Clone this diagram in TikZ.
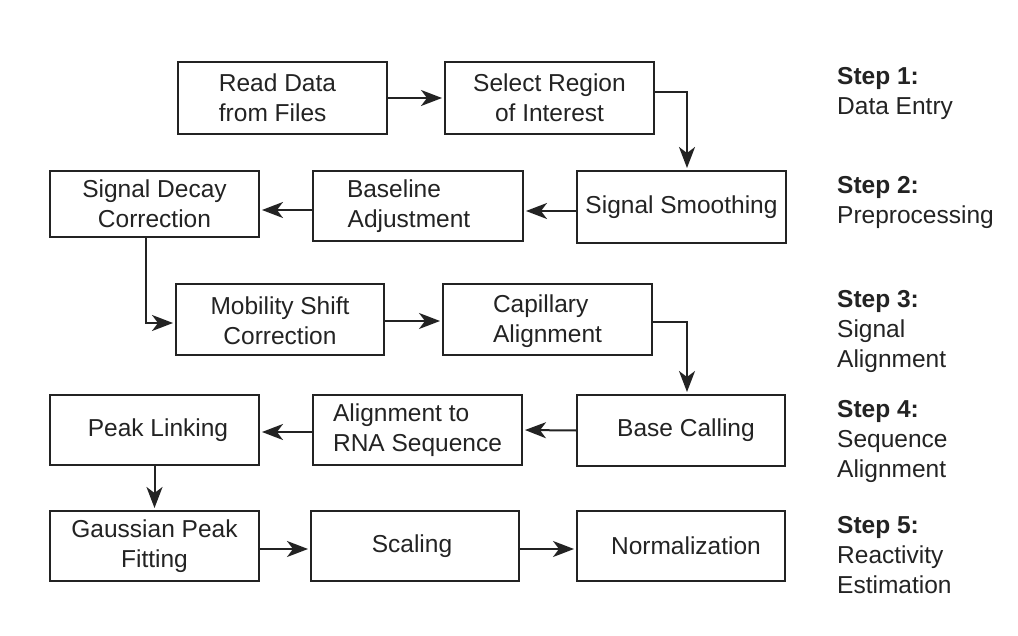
\documentclass[tikz,border=0pt]{standalone}
\usepackage{fontspec}
\setmainfont{Liberation Sans}
\usetikzlibrary{arrows.meta}
\definecolor{ink}{RGB}{35,35,35}
\newcommand\myfnt{\fontsize{24.5}{30}\selectfont}
\begin{document}
\begin{tikzpicture}[x=1pt,y=-1pt,
  box/.style={draw=ink, line width=2pt, minimum width=209pt, minimum height=70pt,
    inner sep=0pt, text=ink, font=\myfnt, align=center},
  arr/.style={draw=ink, line width=2pt, shorten >=2pt,
    -{Stealth[length=21pt,width=16pt,inset=6pt]}},
  steplbl/.style={anchor=north west, inner sep=0pt, text=ink, font=\myfnt, align=left}]
\useasboundingbox[fill=white] (0,0) rectangle (1018,636);

% row 1
\node[box, minimum height=72pt, align=left] (read) at (282.5,98) {Read Data\hspace*{10pt}\\from Files};
\node[box, minimum height=72pt] (select) at (549.5,98) {Select Region\\of Interest};
% row 2
\node[box, minimum height=66pt] (decay) at (154.5,204) {Signal Decay\\Correction};
\node[box, minimum width=210pt] (baseline) at (418,206) {\hspace*{0pt}Baseline\hspace*{48pt}\\Adjustment\hspace*{18pt}};
\node[box, minimum height=72pt] (smooth) at (681.5,207) {Signal Smoothing};
% row 3
\node[box, minimum width=208pt, minimum height=71pt] (mobility) at (280,319.5) {\rule{0pt}{20pt}Mobility Shift\\Correction};
\node[box, minimum height=71pt, align=left] (capillary) at (547.5,319.5) {\rule{0pt}{22pt}Capillary\\Alignment};
% row 4
\node[box] (peak) at (154.5,430) {\hspace*{7pt}Peak Linking};
\node[box, align=left] (rnaalign) at (417.5,430) {Alignment to\\RNA Sequence};
\node[box, minimum width=208pt, minimum height=71pt] (basecall) at (681,430.5) {\hspace*{10pt}Base Calling};
% row 5
\node[box] (gauss) at (154.5,546) {Gaussian Peak\\Fitting};
\node[box, minimum width=208pt] (scaling) at (415,546) {Scaling\hspace*{6pt}};
\node[box, minimum width=208pt] (norm) at (681,546) {\hspace*{10pt}Normalization};

% connectors
\draw[arr] (read.east) -- (select.west);
\draw[arr] ([yshift=6pt]select.east) -| ([xshift=5.5pt]smooth.north);
\draw[arr] ([yshift=-4pt]smooth.west) -- ([yshift=-5pt]baseline.east);
\draw[arr] ([yshift=-4pt]baseline.west) -- ([yshift=-6pt]decay.east);
\draw[arr] ([xshift=-8.5pt]decay.south) |- ([yshift=-3.5pt]mobility.west);
\draw[arr] ([yshift=-1.5pt]mobility.east) -- ([yshift=-1.5pt]capillary.west);
\draw[arr] ([yshift=-2.5pt]capillary.east) -| ([xshift=6pt]basecall.north);
\draw[arr] (basecall.west) -- (rnaalign.east);
\draw[arr] ([yshift=-2pt]rnaalign.west) -- ([yshift=-2pt]peak.east);
\draw[arr] (peak.south) -- (gauss.north);
\draw[arr] ([yshift=-3pt]gauss.east) -- ([yshift=-3pt]scaling.west);
\draw[arr] ([yshift=-3pt]scaling.east) -- ([yshift=-3pt]norm.west);

% step labels
\node[steplbl] (s1) at (837,67) {\textbf{Step 1:}\\Data Entry};
\node[steplbl] (s2) at (837,176) {\textbf{Step 2:}\\Preprocessing};
\node[steplbl] (s3) at (837,290) {\textbf{Step 3:}\\Signal\\Alignment};
\node[steplbl] (s4) at (837,400) {\textbf{Step 4:}\\Sequence\\Alignment};
\node[steplbl] (s5) at (837,516) {\textbf{Step 5:}\\Reactivity\\Estimation};
\end{tikzpicture}
\end{document}
